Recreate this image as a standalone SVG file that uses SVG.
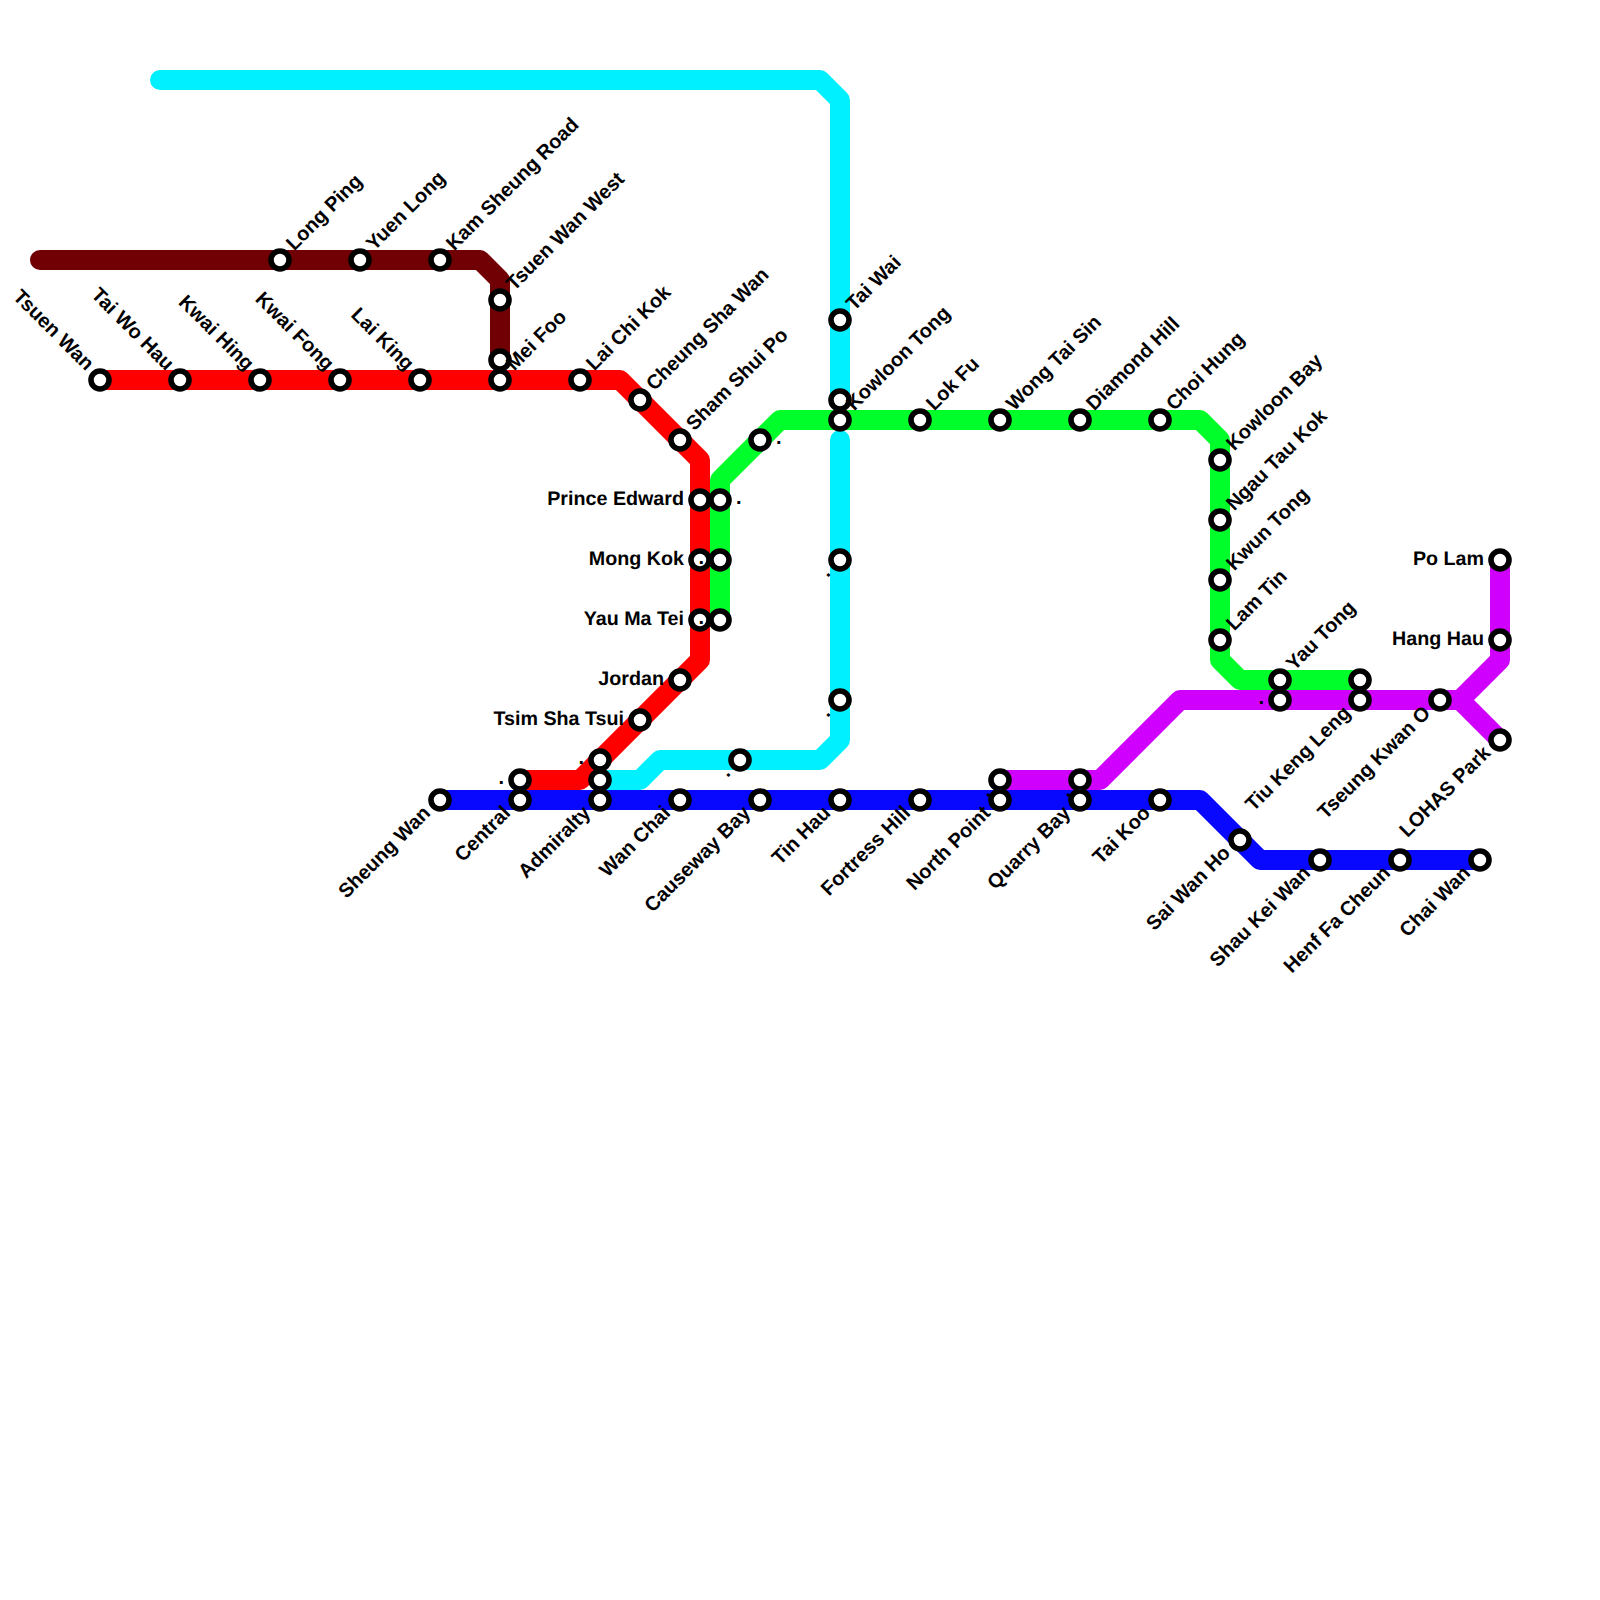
<svg xmlns="http://www.w3.org/2000/svg" width="1600" height="1600" viewBox="0 0 1600 1600">
<style>
text{font-family:"Liberation Sans",Arial,sans-serif;font-weight:700;font-size:20px;fill:#000;text-rendering:geometricPrecision}
text.h{font-size:19.7px}
.l{fill:none;stroke-width:20;stroke-linecap:round;stroke-linejoin:round}
.s{fill:#fff;stroke:#000;stroke-width:5.6}
.e{text-anchor:end}
</style>
<rect width="1600" height="1600" fill="#fff"/>
<g id="connectors">
<path class="l" stroke="#00f0ff" d="M160 80H820L840 100V400"/>
<path class="l" stroke="#00f0ff" d="M840 440V740L820 760H660L640 780H600"/>
<path class="l" stroke="#700004" d="M40 260H480L500 280V360"/>
<path class="l" stroke="#ff0000" d="M100 380H620L700 460V660L580 780H520"/>
<path class="l" stroke="#00ff2a" d="M720 620V480L780 420H1200L1220 440V660L1240 680H1360"/>
<path class="l" stroke="#d000ff" d="M1000 780H1100L1180 700H1460L1500 660V560M1460 700L1500 740"/>
<path class="l" stroke="#0808ff" d="M440 800H1200L1260 860H1480"/>
</g>
<g id="n-tsuen-wan"><circle class="s" cx="100" cy="380" r="9"/><text class="e" transform="translate(100 380) rotate(45)" x="-16" y="4">Tsuen Wan</text></g>
<g id="n-tai-wo-hau"><circle class="s" cx="180" cy="380" r="9"/><text class="e" transform="translate(180 380) rotate(45)" x="-16" y="4">Tai Wo Hau</text></g>
<g id="n-kwai-hing"><circle class="s" cx="260" cy="380" r="9"/><text class="e" transform="translate(260 380) rotate(45)" x="-16" y="4">Kwai Hing</text></g>
<g id="n-kwai-fong"><circle class="s" cx="340" cy="380" r="9"/><text class="e" transform="translate(340 380) rotate(45)" x="-16" y="4">Kwai Fong</text></g>
<g id="n-lai-king"><circle class="s" cx="420" cy="380" r="9"/><text class="e" transform="translate(420 380) rotate(45)" x="-16" y="4">Lai King</text></g>
<g id="n-mei-foo"><circle class="s" cx="500" cy="360" r="9"/><circle class="s" cx="500" cy="380" r="9"/><text transform="translate(500 380) rotate(-45)" x="16" y="4">Mei Foo</text></g>
<g id="n-lai-chi-kok"><circle class="s" cx="580" cy="380" r="9"/><text transform="translate(580 380) rotate(-45)" x="16" y="4">Lai Chi Kok</text></g>
<g id="n-cheung-sha-wan"><circle class="s" cx="640" cy="400" r="9"/><text transform="translate(640 400) rotate(-45)" x="16" y="4">Cheung Sha Wan</text></g>
<g id="n-sham-shui-po"><circle class="s" cx="680" cy="440" r="9"/><text transform="translate(680 440) rotate(-45)" x="16" y="4">Sham Shui Po</text></g>
<g id="n-prince-edward"><circle class="s" cx="700" cy="500" r="9"/><text class="e h" x="684" y="505">Prince Edward</text></g>
<g id="n-mong-kok"><circle class="s" cx="700" cy="560" r="9"/><text class="e h" x="684" y="565">Mong Kok</text></g>
<g id="n-yau-ma-tei"><circle class="s" cx="700" cy="620" r="9"/><text class="e h" x="684" y="625">Yau Ma Tei</text></g>
<g id="n-jordan"><circle class="s" cx="680" cy="680" r="9"/><text class="e h" x="664" y="685">Jordan</text></g>
<g id="n-tsim-sha-tsui"><circle class="s" cx="640" cy="720" r="9"/><text class="e h" x="624" y="725">Tsim Sha Tsui</text></g>
<g id="n-green-720-500"><circle class="s" cx="720" cy="500" r="9"/><text x="736" y="504">.</text></g>
<g id="n-green-720-560"><circle class="s" cx="720" cy="560" r="9"/><text class="e" x="704" y="564">.</text></g>
<g id="n-green-720-620"><circle class="s" cx="720" cy="620" r="9"/><text class="e" x="704" y="624">.</text></g>
<g id="n-green-760-440"><circle class="s" cx="760" cy="440" r="9"/><text x="776" y="444">.</text></g>
<g id="n-long-ping"><circle class="s" cx="280" cy="260" r="9"/><text transform="translate(280 260) rotate(-45)" x="16" y="4">Long Ping</text></g>
<g id="n-yuen-long"><circle class="s" cx="360" cy="260" r="9"/><text transform="translate(360 260) rotate(-45)" x="16" y="4">Yuen Long</text></g>
<g id="n-kam-sheung-road"><circle class="s" cx="440" cy="260" r="9"/><text transform="translate(440 260) rotate(-45)" x="16" y="4">Kam Sheung Road</text></g>
<g id="n-tsuen-wan-west"><circle class="s" cx="500" cy="300" r="9"/><text transform="translate(500 300) rotate(-45)" x="16" y="4">Tsuen Wan West</text></g>
<g id="n-tai-wai"><circle class="s" cx="840" cy="320" r="9"/><text transform="translate(840 320) rotate(-45)" x="16" y="4">Tai Wai</text></g>
<g id="n-cyan-840-400"><circle class="s" cx="840" cy="400" r="9"/></g>
<g id="n-kowloon-tong"><circle class="s" cx="840" cy="420" r="9"/><text transform="translate(840 420) rotate(-45)" x="16" y="4">Kowloon Tong</text></g>
<g id="n-lok-fu"><circle class="s" cx="920" cy="420" r="9"/><text transform="translate(920 420) rotate(-45)" x="16" y="4">Lok Fu</text></g>
<g id="n-wong-tai-sin"><circle class="s" cx="1000" cy="420" r="9"/><text transform="translate(1000 420) rotate(-45)" x="16" y="4">Wong Tai Sin</text></g>
<g id="n-diamond-hill"><circle class="s" cx="1080" cy="420" r="9"/><text transform="translate(1080 420) rotate(-45)" x="16" y="4">Diamond Hill</text></g>
<g id="n-choi-hung"><circle class="s" cx="1160" cy="420" r="9"/><text transform="translate(1160 420) rotate(-45)" x="16" y="4">Choi Hung</text></g>
<g id="n-kowloon-bay"><circle class="s" cx="1220" cy="460" r="9"/><text transform="translate(1220 460) rotate(-45)" x="16" y="4">Kowloon Bay</text></g>
<g id="n-ngau-tau-kok"><circle class="s" cx="1220" cy="520" r="9"/><text transform="translate(1220 520) rotate(-45)" x="16" y="4">Ngau Tau Kok</text></g>
<g id="n-kwun-tong"><circle class="s" cx="1220" cy="580" r="9"/><text transform="translate(1220 580) rotate(-45)" x="16" y="4">Kwun Tong</text></g>
<g id="n-lam-tin"><circle class="s" cx="1220" cy="640" r="9"/><text transform="translate(1220 640) rotate(-45)" x="16" y="4">Lam Tin</text></g>
<g id="n-yau-tong"><circle class="s" cx="1280" cy="680" r="9"/><text transform="translate(1280 680) rotate(-45)" x="16" y="4">Yau Tong</text></g>
<g id="n-green-1360-680"><circle class="s" cx="1360" cy="680" r="9"/></g>
<g id="n-cyan-840-560"><circle class="s" cx="840" cy="560" r="9"/><text class="e" transform="translate(840 560) rotate(-45)" x="-16" y="4">.</text></g>
<g id="n-cyan-840-700"><circle class="s" cx="840" cy="700" r="9"/><text class="e" transform="translate(840 700) rotate(-45)" x="-16" y="4">.</text></g>
<g id="n-cyan-740-760"><circle class="s" cx="740" cy="760" r="9"/><text class="e" transform="translate(740 760) rotate(-45)" x="-16" y="4">.</text></g>
<g id="n-admiralty-760"><circle class="s" cx="600" cy="760" r="9"/><text class="e" x="584" y="764">.</text></g>
<g id="n-admiralty-780"><circle class="s" cx="600" cy="780" r="9"/></g>
<g id="n-central-780"><circle class="s" cx="520" cy="780" r="9"/><text class="e" x="504" y="784">.</text></g>
<g id="n-sheung-wan"><circle class="s" cx="440" cy="800" r="9"/><text class="e" transform="translate(440 800) rotate(-45)" x="-16" y="4">Sheung Wan</text></g>
<g id="n-central"><circle class="s" cx="520" cy="800" r="9"/><text class="e" transform="translate(520 800) rotate(-45)" x="-16" y="4">Central</text></g>
<g id="n-admiralty"><circle class="s" cx="600" cy="800" r="9"/><text class="e" transform="translate(600 800) rotate(-45)" x="-16" y="4">Admiralty</text></g>
<g id="n-wan-chai"><circle class="s" cx="680" cy="800" r="9"/><text class="e" transform="translate(680 800) rotate(-45)" x="-16" y="4">Wan Chai</text></g>
<g id="n-causeway-bay"><circle class="s" cx="760" cy="800" r="9"/><text class="e" transform="translate(760 800) rotate(-45)" x="-16" y="4">Causeway Bay</text></g>
<g id="n-tin-hau"><circle class="s" cx="840" cy="800" r="9"/><text class="e" transform="translate(840 800) rotate(-45)" x="-16" y="4">Tin Hau</text></g>
<g id="n-fortress-hill"><circle class="s" cx="920" cy="800" r="9"/><text class="e" transform="translate(920 800) rotate(-45)" x="-16" y="4">Fortress Hill</text></g>
<g id="n-north-point-780"><circle class="s" cx="1000" cy="780" r="9"/><text class="e" transform="translate(1000 780) rotate(-45)" x="-16" y="4">.</text></g>
<g id="n-north-point"><circle class="s" cx="1000" cy="800" r="9"/><text class="e" transform="translate(1000 800) rotate(-45)" x="-16" y="4">North Point</text></g>
<g id="n-quarry-bay-780"><circle class="s" cx="1080" cy="780" r="9"/><text class="e" transform="translate(1080 780) rotate(-45)" x="-16" y="4">.</text></g>
<g id="n-quarry-bay"><circle class="s" cx="1080" cy="800" r="9"/><text class="e" transform="translate(1080 800) rotate(-45)" x="-16" y="4">Quarry Bay</text></g>
<g id="n-tai-koo"><circle class="s" cx="1160" cy="800" r="9"/><text class="e" transform="translate(1160 800) rotate(-45)" x="-16" y="4">Tai Koo</text></g>
<g id="n-sai-wan-ho"><circle class="s" cx="1240" cy="840" r="9"/><text class="e" transform="translate(1240 840) rotate(-45)" x="-16" y="4">Sai Wan Ho</text></g>
<g id="n-shau-kei-wan"><circle class="s" cx="1320" cy="860" r="9"/><text class="e" transform="translate(1320 860) rotate(-45)" x="-16" y="4">Shau Kei Wan</text></g>
<g id="n-henf-fa-cheun"><circle class="s" cx="1400" cy="860" r="9"/><text class="e" transform="translate(1400 860) rotate(-45)" x="-16" y="4">Henf Fa Cheun</text></g>
<g id="n-chai-wan"><circle class="s" cx="1480" cy="860" r="9"/><text class="e" transform="translate(1480 860) rotate(-45)" x="-16" y="4">Chai Wan</text></g>
<g id="n-magenta-1280-700"><circle class="s" cx="1280" cy="700" r="9"/><text class="e" x="1264" y="704">.</text></g>
<g id="n-tiu-keng-leng"><circle class="s" cx="1360" cy="700" r="9"/><text class="e" transform="translate(1360 700) rotate(-45)" x="-16" y="4">Tiu Keng Leng</text></g>
<g id="n-tseung-kwan-o"><circle class="s" cx="1440" cy="700" r="9"/><text class="e" transform="translate(1440 700) rotate(-45)" x="-16" y="4">Tseung Kwan O</text></g>
<g id="n-lohas-park"><circle class="s" cx="1500" cy="740" r="9"/><text class="e" transform="translate(1500 740) rotate(-45)" x="-16" y="4">LOHAS Park</text></g>
<g id="n-po-lam"><circle class="s" cx="1500" cy="560" r="9"/><text class="e h" x="1484" y="565">Po Lam</text></g>
<g id="n-hang-hau"><circle class="s" cx="1500" cy="640" r="9"/><text class="e h" x="1484" y="645">Hang Hau</text></g>
</svg>
